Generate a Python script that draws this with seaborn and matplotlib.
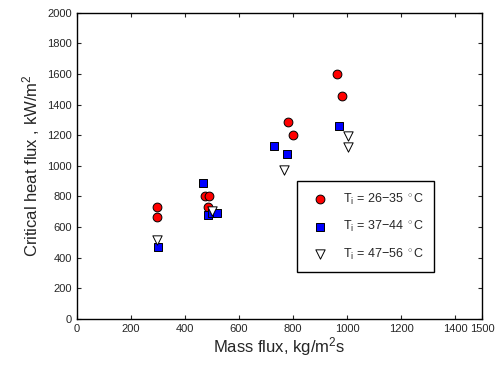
import numpy as np
import pandas as pd
import matplotlib.pyplot as plt
import seaborn as sns

sns.set_style("ticks")
plt.rcParams['font.family'] = ['Liberation Sans', 'DejaVu Sans']
plt.rcParams['mathtext.fontset'] = 'custom'
plt.rcParams['mathtext.rm'] = 'Liberation Sans'
plt.rcParams['mathtext.it'] = 'Liberation Sans'

# data
g_26_35 = [297, 295, 474, 489, 484, 783, 801, 962, 983]
chf_26_35 = [734, 665, 806, 806, 734, 1285, 1203, 1599, 1457]
g_37_44 = [299, 468, 484, 501, 517, 730, 779, 971]
chf_37_44 = [473, 887, 680, 690, 690, 1133, 1076, 1261]
g_47_56 = [297, 499, 766, 1005, 1002]
chf_47_56 = [516, 706, 976, 1198, 1122]

labels = [r'T$_\mathregular{i}$ = 26$-$35 $^\circ$C',
          r'T$_\mathregular{i}$ = 37$-$44 $^\circ$C',
          r'T$_\mathregular{i}$ = 47$-$56 $^\circ$C']

x_ticks = [0, 200, 400, 600, 800, 1000, 1200, 1400, 1500]
y_ticks = [0, 200, 400, 600, 800, 1000, 1200, 1400, 1600, 1800, 2000]

fig = plt.figure(figsize=(5, 3.67), dpi=100)
ax = fig.add_axes([0.154, 0.131, 0.81, 0.834])

sns.scatterplot(x=g_26_35, y=chf_26_35, ax=ax, marker='o', color='red',
                edgecolor='black', linewidth=0.7, s=40, label=labels[0])
sns.scatterplot(x=g_37_44, y=chf_37_44, ax=ax, marker='s', color='#0000ff',
                edgecolor='black', linewidth=0.7, s=30, label=labels[1])
sns.scatterplot(x=g_47_56, y=chf_47_56, ax=ax, marker='v', color='white',
                edgecolor='black', linewidth=0.7, s=45, label=labels[2])

ax.set_xlim(0, 1500)
ax.set_ylim(0, 2000)
ax.set_xticks(x_ticks)
ax.set_yticks(y_ticks)
ax.tick_params(direction='in', top=True, right=True, labelsize=8, length=3, width=0.8)
for sp in ax.spines.values():
    sp.set_linewidth(1.0)
    sp.set_color('black')

ax.set_xlabel(r'Mass flux, kg/m$^\mathregular{2}$s', fontsize=12, labelpad=1)
ax.set_ylabel(r'Critical heat flux , kW/m$^\mathregular{2}$', fontsize=12, labelpad=4)

leg = ax.legend(loc='upper left', bbox_to_anchor=(0.542, 0.449), fontsize=9,
                frameon=True, fancybox=False, edgecolor='black', framealpha=1,
                borderpad=0.8, labelspacing=1.0, handletextpad=0.7,
                handlelength=2.2, borderaxespad=0)
leg.get_frame().set_linewidth(1.0)

fig.savefig('out.png', dpi=100)
